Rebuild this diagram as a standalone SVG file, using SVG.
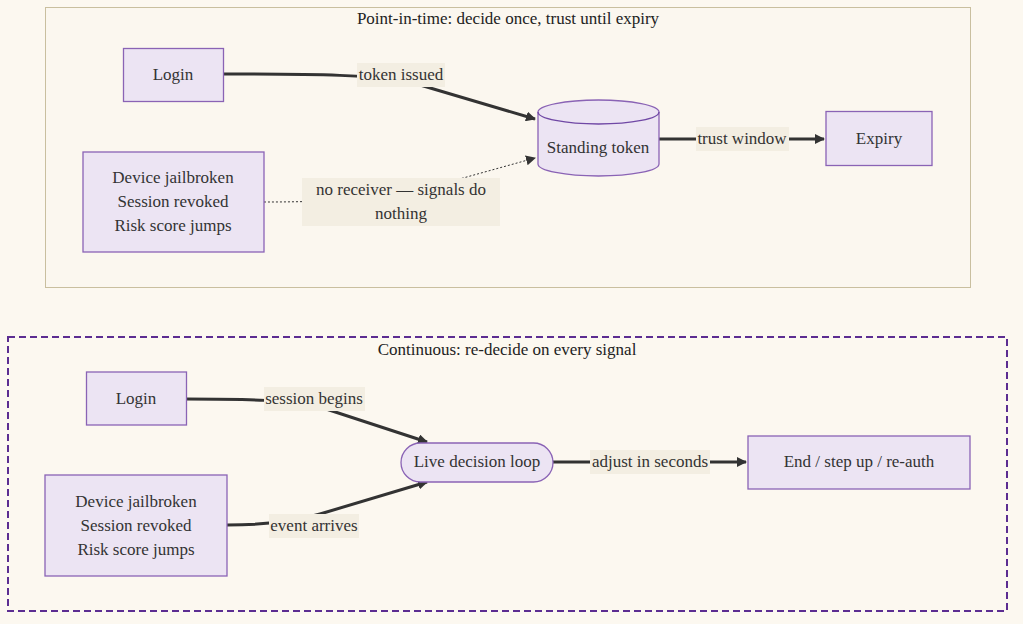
<svg xmlns="http://www.w3.org/2000/svg" width="1023" height="624" viewBox="0 0 1023 624">
<defs>
<marker id="arr" viewBox="0 0 10 10" refX="9" refY="5" markerWidth="10" markerHeight="10" markerUnits="userSpaceOnUse" orient="auto">
<path d="M0,0 L10,5 L0,10 z" fill="#333333"/>
</marker>
<style>
text{font-family:"Liberation Serif","Times New Roman",serif;font-size:17px;fill:#333333;text-anchor:middle;dominant-baseline:central}
.title{fill:#222222}
.node{fill:#ece4f3;stroke:#8a63b5;stroke-width:1.3}
.edge{fill:none;stroke:#333333;stroke-width:3}
.dot{fill:none;stroke:#333333;stroke-width:1;stroke-dasharray:2,2}
.lbl{fill:#f3eee2}
</style>
</defs>
<rect width="1023" height="624" fill="#fcf8f0"/>
<g id="cluster-point">
<rect x="45.5" y="7.5" width="925" height="280" fill="#fbf7ef" stroke="#c9bf9f" stroke-width="1"/>
<text class="title" x="508" y="18">Point-in-time: decide once, trust until expiry</text>
</g>
<g id="cluster-continuous">
<rect x="8" y="337" width="999" height="274" fill="#fcf8f0" stroke="#5c2d91" stroke-width="2" stroke-dasharray="7,4"/>
<text class="title" x="507" y="349">Continuous: re-decide on every signal</text>
</g>
<g id="connectors">
<path class="edge" d="M223,74 C320,74 375,75 410,82 L535,119" marker-end="url(#arr)"/>
<path class="dot" d="M264,202 C320,202 380,200 420,190 L535,158" marker-end="url(#arr)"/>
<path class="edge" d="M659,139 L824,139" marker-end="url(#arr)"/>
<path class="edge" d="M186,399 C250,399 290,400 320,407 L427,442" marker-end="url(#arr)"/>
<path class="edge" d="M227,525 C255,525 290,523 320,514 L427,482" marker-end="url(#arr)"/>
<path class="edge" d="M553,462 L746,462" marker-end="url(#arr)"/>
<rect class="lbl" x="357" y="63" width="88" height="24"/>
<text x="401" y="74">token issued</text>
<rect class="lbl" x="302" y="178" width="198" height="48"/>
<text x="401" y="189">no receiver — signals do</text>
<text x="401" y="213">nothing</text>
<rect class="lbl" x="696" y="127" width="93" height="24"/>
<text x="742" y="138">trust window</text>
<rect class="lbl" x="264" y="387" width="101" height="24"/>
<text x="314" y="398">session begins</text>
<rect class="lbl" x="269" y="514" width="90" height="24"/>
<text x="314" y="525">event arrives</text>
<rect class="lbl" x="590" y="450" width="120" height="24"/>
<text x="650" y="461">adjust in seconds</text>
</g>
<g id="login-top">
<rect class="node" x="123.5" y="48.5" width="100" height="53"/>
<text x="173" y="74">Login</text>
</g>
<g id="signals-top">
<rect class="node" x="83" y="152" width="181" height="100" stroke="#7048a5"/>
<text x="173" y="177">Device jailbroken</text>
<text x="173" y="201">Session revoked</text>
<text x="173" y="225">Risk score jumps</text>
</g>
<g id="standing-token">
<path class="node" d="M538,112 A60.5,12 0 0 1 659,112 L659,164 A60.5,12 0 0 1 538,164 Z" stroke="#7048a5"/>
<path d="M538,112 A60.5,12 0 0 0 659,112" fill="none" stroke="#7048a5" stroke-width="1.3"/>
<text x="598" y="147">Standing token</text>
</g>
<g id="expiry">
<rect class="node" x="826" y="111.5" width="106" height="54"/>
<text x="879" y="138">Expiry</text>
</g>
<g id="login-bottom">
<rect class="node" x="86.5" y="372" width="100" height="53"/>
<text x="136" y="398">Login</text>
</g>
<g id="signals-bottom">
<rect class="node" x="45" y="475" width="182" height="101"/>
<text x="136" y="501">Device jailbroken</text>
<text x="136" y="525">Session revoked</text>
<text x="136" y="549">Risk score jumps</text>
</g>
<g id="live-loop">
<rect class="node" x="401" y="443" width="152" height="39" rx="19.5" ry="19.5" stroke="#5c2d91"/>
<text x="477" y="461">Live decision loop</text>
</g>
<g id="end-step">
<rect class="node" x="748" y="436" width="222" height="53"/>
<text x="859" y="461">End / step up / re-auth</text>
</g>
</svg>
